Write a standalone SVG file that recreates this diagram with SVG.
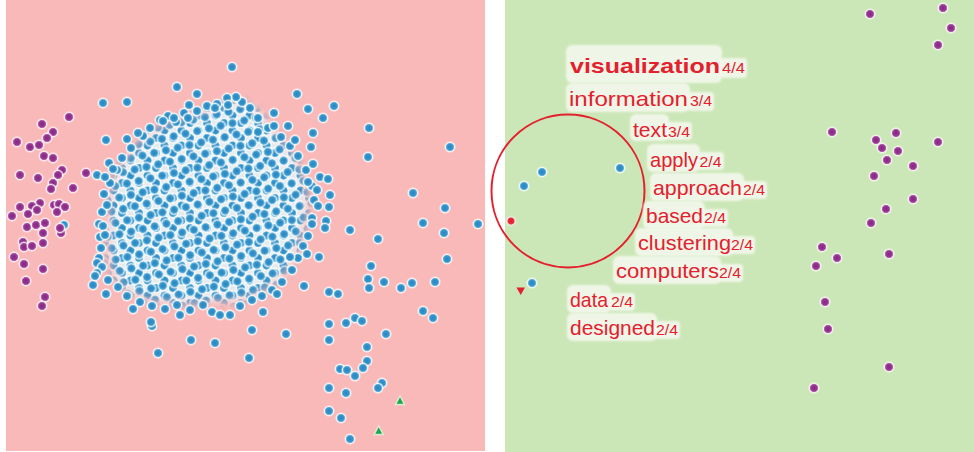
<svg xmlns="http://www.w3.org/2000/svg" xmlns:xlink="http://www.w3.org/1999/xlink" width="974" height="452" viewBox="0 0 974 452">
<style>
.w{font-family:"Liberation Sans",Arial,sans-serif;fill:#E4202E;font-size:21px}
.s{font-family:"Liberation Sans",Arial,sans-serif;fill:#E4202E;font-size:14px}
.bx{fill:#F5F9EF;opacity:.88;filter:url(#soft)}
</style>
<defs>
<radialGradient id="gb"><stop offset="0" stop-color="#2784bf"/><stop offset=".5" stop-color="#3a98ce"/><stop offset=".62" stop-color="#7dbfe1"/><stop offset=".72" stop-color="#eef8fb" stop-opacity=".95"/><stop offset=".86" stop-color="#fff" stop-opacity=".4"/><stop offset="1" stop-color="#fff" stop-opacity="0"/></radialGradient>
<radialGradient id="gp"><stop offset="0" stop-color="#82267e"/><stop offset=".5" stop-color="#9a3a96"/><stop offset=".62" stop-color="#b873b5"/><stop offset=".72" stop-color="#f8ecf3" stop-opacity=".95"/><stop offset=".86" stop-color="#fff" stop-opacity=".4"/><stop offset="1" stop-color="#fff" stop-opacity="0"/></radialGradient>
<radialGradient id="gr"><stop offset="0" stop-color="#e01a2a"/><stop offset=".5" stop-color="#e8303c"/><stop offset=".66" stop-color="#f7dede" stop-opacity=".8"/><stop offset="1" stop-color="#fff" stop-opacity="0"/></radialGradient>
<circle id="b" r="6.2" fill="url(#gb)"/>
<circle id="p" r="6.2" fill="url(#gp)"/>
<filter id="soft" x="-10%" y="-20%" width="120%" height="140%"><feGaussianBlur stdDeviation="0.8"/></filter>
<filter id="mb" x="-20%" y="-20%" width="140%" height="140%"><feGaussianBlur stdDeviation="4"/></filter>
<pattern id="p1" patternUnits="userSpaceOnUse" width="17" height="15">
<use href="#b" x="3" y="3"/><use href="#b" x="20" y="3"/><use href="#b" x="-14" y="3"/><use href="#b" x="3" y="18"/><use href="#b" x="3" y="-12"/><use href="#b" x="20" y="18"/><use href="#b" x="-14" y="18"/><use href="#b" x="20" y="-12"/><use href="#b" x="-14" y="-12"/>
<use href="#b" x="11.5" y="10.5"/><use href="#b" x="-5.5" y="10.5"/><use href="#b" x="28.5" y="10.5"/><use href="#b" x="11.5" y="-4.5"/><use href="#b" x="11.5" y="25.5"/><use href="#b" x="-5.5" y="-4.5"/><use href="#b" x="-5.5" y="25.5"/><use href="#b" x="28.5" y="-4.5"/><use href="#b" x="28.5" y="25.5"/>
</pattern>
<pattern id="p2" patternUnits="userSpaceOnUse" width="18" height="16" patternTransform="rotate(29)">
<use href="#b" x="2" y="3"/><use href="#b" x="20" y="3"/><use href="#b" x="-16" y="3"/><use href="#b" x="2" y="19"/><use href="#b" x="2" y="-13"/><use href="#b" x="20" y="19"/><use href="#b" x="-16" y="19"/><use href="#b" x="20" y="-13"/><use href="#b" x="-16" y="-13"/>
<use href="#b" x="11" y="11"/><use href="#b" x="-7" y="11"/><use href="#b" x="29" y="11"/><use href="#b" x="11" y="-5"/><use href="#b" x="11" y="27"/><use href="#b" x="-7" y="-5"/><use href="#b" x="-7" y="27"/><use href="#b" x="29" y="-5"/><use href="#b" x="29" y="27"/>
</pattern>
<mask id="core" maskUnits="userSpaceOnUse" x="60" y="60" width="300" height="300">
<path fill="#fff" filter="url(#mb)" d="M110,205 C108,178 126,158 140,142 C152,128 170,122 186,118 C200,112 214,110 226,102 C244,98 258,108 270,128 C284,140 302,162 306,190 C310,214 302,236 296,252 C290,270 278,282 266,288 C252,298 236,304 214,300 C190,306 162,302 144,298 C126,292 114,282 110,262 C106,244 110,226 110,205 Z"/>
</mask>
</defs>

<rect width="974" height="452" fill="#fff"/>
<g id="panel-left">
<rect x="6" y="0" width="479" height="451" fill="#F9B9B9"/>
<g id="blue-core" mask="url(#core)">
<rect x="80" y="80" width="260" height="260" fill="#e2f2f6" opacity=".85"/>
<rect x="80" y="80" width="260" height="260" fill="url(#p1)"/>
<rect x="80" y="80" width="260" height="260" fill="url(#p2)"/>
</g>
<g id="blue-points">
<use href="#b" x="160" y="120"/><use href="#b" x="168" y="116"/><use href="#b" x="176" y="122"/><use href="#b" x="184" y="113"/><use href="#b" x="150" y="128"/><use href="#b" x="143" y="136"/><use href="#b" x="131" y="148"/><use href="#b" x="122" y="158"/><use href="#b" x="117" y="170"/><use href="#b" x="110" y="183"/><use href="#b" x="104" y="194"/><use href="#b" x="102" y="212"/><use href="#b" x="99" y="224"/><use href="#b" x="101" y="248"/><use href="#b" x="99" y="258"/><use href="#b" x="108" y="280"/><use href="#b" x="118" y="287"/><use href="#b" x="127" y="296"/><use href="#b" x="140" y="302"/><use href="#b" x="152" y="306"/><use href="#b" x="165" y="309"/><use href="#b" x="177" y="305"/><use href="#b" x="190" y="310"/><use href="#b" x="203" y="305"/><use href="#b" x="212" y="312"/><use href="#b" x="240" y="306"/><use href="#b" x="252" y="300"/><use href="#b" x="262" y="296"/><use href="#b" x="272" y="290"/><use href="#b" x="282" y="282"/><use href="#b" x="292" y="270"/><use href="#b" x="298" y="258"/><use href="#b" x="303" y="246"/><use href="#b" x="308" y="236"/><use href="#b" x="312" y="218"/><use href="#b" x="314" y="200"/><use href="#b" x="312" y="186"/><use href="#b" x="306" y="170"/><use href="#b" x="298" y="156"/><use href="#b" x="290" y="146"/><use href="#b" x="281" y="137"/><use href="#b" x="268" y="128"/><use href="#b" x="258" y="118"/><use href="#b" x="250" y="108"/><use href="#b" x="242" y="102"/><use href="#b" x="236" y="97"/><use href="#b" x="227" y="98"/><use href="#b" x="217" y="104"/><use href="#b" x="207" y="106"/><use href="#b" x="197" y="111"/><use href="#b" x="188" y="118"/><use href="#b" x="163" y="121"/><use href="#b" x="174" y="118"/><use href="#b" x="228" y="105"/>
<use href="#b" x="232" y="67"/><use href="#b" x="177" y="87"/><use href="#b" x="197" y="94"/><use href="#b" x="189" y="105"/><use href="#b" x="103" y="103"/><use href="#b" x="127" y="102"/><use href="#b" x="215" y="108"/><use href="#b" x="106" y="140"/><use href="#b" x="138" y="133"/><use href="#b" x="127" y="139"/><use href="#b" x="109" y="163"/><use href="#b" x="113" y="169"/><use href="#b" x="97" y="175"/><use href="#b" x="105" y="177"/><use href="#b" x="107" y="205"/><use href="#b" x="103" y="226"/><use href="#b" x="100" y="237"/><use href="#b" x="105" y="235"/><use href="#b" x="97" y="263"/><use href="#b" x="102" y="267"/><use href="#b" x="97" y="273"/><use href="#b" x="64" y="225"/>
<use href="#b" x="297" y="94"/><use href="#b" x="308" y="109"/><use href="#b" x="334" y="106"/><use href="#b" x="323" y="118"/><use href="#b" x="274" y="113"/><use href="#b" x="274" y="126"/><use href="#b" x="288" y="126"/><use href="#b" x="313" y="133"/><use href="#b" x="369" y="128"/><use href="#b" x="368" y="157"/><use href="#b" x="450" y="147"/><use href="#b" x="413" y="193"/><use href="#b" x="445" y="208"/><use href="#b" x="423" y="223"/><use href="#b" x="444" y="233"/><use href="#b" x="478" y="224"/><use href="#b" x="350" y="230"/><use href="#b" x="378" y="239"/><use href="#b" x="447" y="259"/><use href="#b" x="258" y="132"/><use href="#b" x="295" y="140"/><use href="#b" x="311" y="147"/><use href="#b" x="313" y="164"/><use href="#b" x="330" y="195"/><use href="#b" x="329" y="207"/><use href="#b" x="326" y="221"/><use href="#b" x="312" y="224"/><use href="#b" x="320" y="177"/><use href="#b" x="328" y="179"/><use href="#b" x="318" y="206"/><use href="#b" x="317" y="190"/><use href="#b" x="308" y="182"/><use href="#b" x="325" y="228"/><use href="#b" x="319" y="257"/><use href="#b" x="307" y="254"/>
<use href="#b" x="371" y="266"/><use href="#b" x="368" y="279"/><use href="#b" x="369" y="288"/><use href="#b" x="384" y="282"/><use href="#b" x="401" y="288"/><use href="#b" x="412" y="283"/><use href="#b" x="435" y="282"/><use href="#b" x="423" y="311"/><use href="#b" x="433" y="318"/><use href="#b" x="329" y="292"/><use href="#b" x="338" y="294"/><use href="#b" x="304" y="286"/><use href="#b" x="329" y="324"/><use href="#b" x="346" y="323"/><use href="#b" x="355" y="318"/><use href="#b" x="362" y="321"/><use href="#b" x="386" y="334"/><use href="#b" x="329" y="340"/><use href="#b" x="367" y="347"/><use href="#b" x="367" y="361"/><use href="#b" x="363" y="368"/><use href="#b" x="340" y="369"/><use href="#b" x="347" y="370"/><use href="#b" x="355" y="376"/><use href="#b" x="382" y="383"/><use href="#b" x="378" y="388"/><use href="#b" x="329" y="388"/><use href="#b" x="346" y="393"/><use href="#b" x="329" y="411"/><use href="#b" x="341" y="418"/><use href="#b" x="350" y="439"/>
<use href="#b" x="286" y="334"/><use href="#b" x="252" y="330"/><use href="#b" x="249" y="358"/><use href="#b" x="215" y="343"/><use href="#b" x="191" y="340"/><use href="#b" x="158" y="353"/><use href="#b" x="152" y="326"/><use href="#b" x="133" y="309"/><use href="#b" x="106" y="294"/><use href="#b" x="93" y="285"/><use href="#b" x="95" y="276"/><use href="#b" x="277" y="294"/><use href="#b" x="263" y="312"/><use href="#b" x="230" y="315"/><use href="#b" x="220" y="315"/><use href="#b" x="180" y="315"/><use href="#b" x="290" y="257"/><use href="#b" x="151" y="322"/>
</g>
<g id="purple-points-left">
<use href="#p" x="69" y="117"/><use href="#p" x="42" y="124"/><use href="#p" x="53" y="132"/><use href="#p" x="47" y="138"/><use href="#p" x="17" y="142"/><use href="#p" x="30" y="147"/><use href="#p" x="39" y="145"/><use href="#p" x="44" y="156"/><use href="#p" x="53" y="158"/><use href="#p" x="62" y="170"/><use href="#p" x="58" y="175"/><use href="#p" x="20" y="175"/><use href="#p" x="38" y="178"/><use href="#p" x="53" y="183"/><use href="#p" x="51" y="189"/><use href="#p" x="73" y="188"/><use href="#p" x="86" y="173"/><use href="#p" x="40" y="203"/><use href="#p" x="32" y="206"/><use href="#p" x="20" y="207"/><use href="#p" x="54" y="205"/><use href="#p" x="59" y="204"/><use href="#p" x="65" y="207"/><use href="#p" x="12" y="216"/><use href="#p" x="28" y="214"/><use href="#p" x="37" y="210"/><use href="#p" x="57" y="212"/><use href="#p" x="27" y="227"/><use href="#p" x="36" y="225"/><use href="#p" x="45" y="223"/><use href="#p" x="43" y="233"/><use href="#p" x="61" y="233"/><use href="#p" x="60" y="228"/><use href="#p" x="23" y="242"/><use href="#p" x="24" y="247"/><use href="#p" x="32" y="246"/><use href="#p" x="43" y="243"/><use href="#p" x="14" y="257"/><use href="#p" x="24" y="264"/><use href="#p" x="43" y="269"/><use href="#p" x="26" y="281"/><use href="#p" x="45" y="297"/><use href="#p" x="42" y="306"/>
</g>
<g id="green-triangles" fill="#1ea64a" stroke="#e8f6e8" stroke-width="1.5" stroke-opacity=".8">
<path d="M400,396 L404.5,404.5 L395.5,404.5 Z"/>
<path d="M378.7,426 L383.2,434.5 L374.2,434.5 Z"/>
</g>
</g>

<g id="panel-right">
<rect x="505" y="0" width="469" height="452" fill="#CBE6B7"/>
<g id="purple-points-right">
<use href="#p" x="870" y="14"/><use href="#p" x="943" y="8"/><use href="#p" x="951" y="28"/><use href="#p" x="938" y="45"/><use href="#p" x="832" y="132"/><use href="#p" x="896" y="133"/><use href="#p" x="876" y="140"/><use href="#p" x="938" y="142"/><use href="#p" x="882" y="148"/><use href="#p" x="898" y="151"/><use href="#p" x="887" y="160"/><use href="#p" x="913" y="166"/><use href="#p" x="874" y="176"/><use href="#p" x="913" y="199"/><use href="#p" x="886" y="209"/><use href="#p" x="871" y="223"/><use href="#p" x="822" y="247"/><use href="#p" x="837" y="258"/><use href="#p" x="816" y="266"/><use href="#p" x="889" y="254"/><use href="#p" x="825" y="302"/><use href="#p" x="828" y="329"/><use href="#p" x="889" y="367"/><use href="#p" x="814" y="388"/>
</g>
<g id="selection-points">
<use href="#b" x="542" y="172"/><use href="#b" x="620" y="168"/><use href="#b" x="524" y="186"/><use href="#b" x="532" y="283"/>
<circle cx="511" cy="221" r="6" fill="url(#gr)"/>
<path d="M516.5,287.5 L525,287.5 L520.7,295 Z" fill="#e3202e"/>
</g>
<g id="lens">
<circle cx="568" cy="191" r="76.5" fill="none" stroke="#E4202E" stroke-width="2"/>
</g>
<g id="label-visualization">
<rect class="bx" x="566" y="45" width="156" height="38" rx="6"/><rect class="bx" x="720" y="58" width="27" height="20" rx="4"/>
<text class="w" x="570" y="73" font-size="25" font-weight="bold" textLength="150" lengthAdjust="spacingAndGlyphs">visualization</text>
<text class="s" x="722" y="73" font-size="15" textLength="23" lengthAdjust="spacingAndGlyphs">4/4</text>
</g>
<g id="label-information">
<rect class="bx" x="566" y="83" width="124" height="29" rx="6"/><rect class="bx" x="688" y="92" width="26" height="19" rx="4"/>
<text class="w" x="569" y="106" font-size="22" textLength="119" lengthAdjust="spacingAndGlyphs">information</text>
<text class="s" x="690" y="106" textLength="22" lengthAdjust="spacingAndGlyphs">3/4</text>
</g>
<g id="label-text">
<rect class="bx" x="630" y="114" width="39" height="27" rx="6"/><rect class="bx" x="666" y="122" width="26" height="18" rx="4"/>
<text class="w" x="633" y="136.5" textLength="34" lengthAdjust="spacingAndGlyphs">text</text>
<text class="s" x="668" y="136.5" textLength="22" lengthAdjust="spacingAndGlyphs">3/4</text>
</g>
<g id="label-apply">
<rect class="bx" x="647" y="144" width="53" height="28" rx="6"/><rect class="bx" x="697" y="152" width="27" height="18" rx="4"/>
<text class="w" x="650" y="166.5" textLength="48" lengthAdjust="spacingAndGlyphs">apply</text>
<text class="s" x="699.5" y="166.5" textLength="22" lengthAdjust="spacingAndGlyphs">2/4</text>
</g>
<g id="label-approach">
<rect class="bx" x="650" y="173" width="94" height="28" rx="6"/><rect class="bx" x="741" y="181" width="26" height="18" rx="4"/>
<text class="w" x="653" y="195" textLength="89" lengthAdjust="spacingAndGlyphs">approach</text>
<text class="s" x="743" y="195" textLength="22" lengthAdjust="spacingAndGlyphs">2/4</text>
</g>
<g id="label-based">
<rect class="bx" x="643" y="201" width="62" height="28" rx="6"/><rect class="bx" x="702" y="209" width="26" height="18" rx="4"/>
<text class="w" x="646" y="223" textLength="57" lengthAdjust="spacingAndGlyphs">based</text>
<text class="s" x="704" y="223" textLength="22" lengthAdjust="spacingAndGlyphs">2/4</text>
</g>
<g id="label-clustering">
<rect class="bx" x="635" y="228" width="98" height="28" rx="6"/><rect class="bx" x="729" y="236" width="26" height="18" rx="4"/>
<text class="w" x="638" y="250" textLength="93" lengthAdjust="spacingAndGlyphs">clustering</text>
<text class="s" x="731" y="250" textLength="22" lengthAdjust="spacingAndGlyphs">2/4</text>
</g>
<g id="label-computers">
<rect class="bx" x="613" y="256" width="108" height="28" rx="6"/><rect class="bx" x="717" y="264" width="26" height="18" rx="4"/>
<text class="w" x="616" y="278" textLength="103" lengthAdjust="spacingAndGlyphs">computers</text>
<text class="s" x="719" y="278" textLength="22" lengthAdjust="spacingAndGlyphs">2/4</text>
</g>
<g id="label-data">
<rect class="bx" x="567" y="285" width="44" height="28" rx="6"/><rect class="bx" x="609" y="293" width="26" height="18" rx="4"/>
<text class="w" x="570" y="306.5" textLength="38" lengthAdjust="spacingAndGlyphs">data</text>
<text class="s" x="611" y="306.5" textLength="22" lengthAdjust="spacingAndGlyphs">2/4</text>
</g>
<g id="label-designed">
<rect class="bx" x="567" y="313" width="90" height="28" rx="6"/><rect class="bx" x="654" y="321" width="26" height="18" rx="4"/>
<text class="w" x="570" y="335" textLength="85" lengthAdjust="spacingAndGlyphs">designed</text>
<text class="s" x="656" y="335" textLength="22" lengthAdjust="spacingAndGlyphs">2/4</text>
</g>
</g>
<g id="connectors"/>
</svg>
